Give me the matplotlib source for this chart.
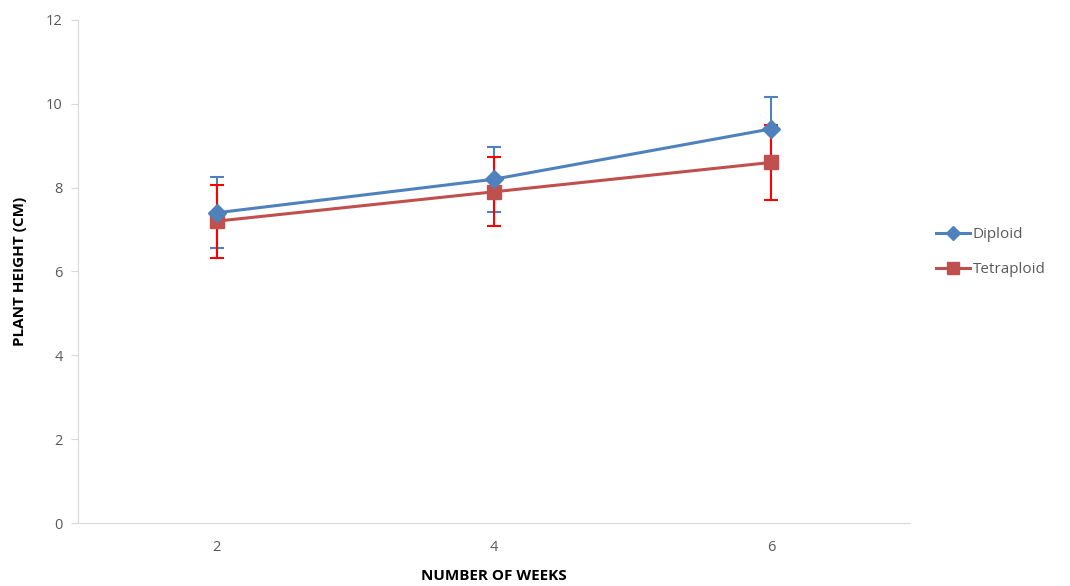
import numpy as np
import matplotlib.pyplot as plt

weeks = ['2', '4', '6']
diploid = [7.4, 8.2, 9.4]
diploid_err = [0.85, 0.77, 0.75]
tetraploid = [7.2, 7.9, 8.6]
tetraploid_err = [0.87, 0.82, 0.9]

plt.rcParams['font.family'] = ['Open Sans', 'DejaVu Sans']

fig = plt.figure(figsize=(10.7, 5.86), dpi=100)
ax = fig.add_axes([0.073, 0.1075, 0.777, 0.8585])

x = np.arange(len(weeks))

ax.errorbar(x, diploid, yerr=diploid_err, fmt='none', ecolor='#4F81BD',
            elinewidth=1.5, capsize=5, capthick=1.5, zorder=2)
ax.errorbar(x, tetraploid, yerr=tetraploid_err, fmt='none', ecolor='#FF0000',
            elinewidth=1.5, capsize=5, capthick=1.5, zorder=2)
ax.plot(x, tetraploid, color='#C0504D', lw=2.2, marker='s', ms=10,
        label='Tetraploid', zorder=3)
ax.plot(x, diploid, color='#4F81BD', lw=2.2, marker='D', ms=9,
        label='Diploid', zorder=4)

ax.set_xlim(-0.5, 2.5)
ax.set_ylim(0, 12)
ax.set_xticks(x)
ax.set_xticklabels(weeks)
ax.set_yticks(range(0, 13, 2))

for s in ['top', 'right']:
    ax.spines[s].set_visible(False)
ax.spines['left'].set_color('#D9D9D9')
ax.spines['bottom'].set_color('#D9D9D9')
ax.tick_params(axis='y', colors='#D9D9D9', labelcolor='#595959', length=5, labelsize=10.5, pad=6)
ax.tick_params(axis='x', length=0, labelcolor='#595959', labelsize=10.5, pad=12)

ax.set_ylabel('PLANT HEIGHT (CM)', fontsize=11, fontweight='bold', labelpad=14)
ax.set_xlabel('NUMBER OF WEEKS', fontsize=11, fontweight='bold', labelpad=10)

h, l = ax.get_legend_handles_labels()
fig.legend(h[::-1], l[::-1], loc='center left', bbox_to_anchor=(0.862, 0.57),
           frameon=False, fontsize=11, labelcolor='#595959', handlelength=2.2,
           labelspacing=1.3, handletextpad=0.2, markerscale=0.8)

plt.savefig('out.png')
